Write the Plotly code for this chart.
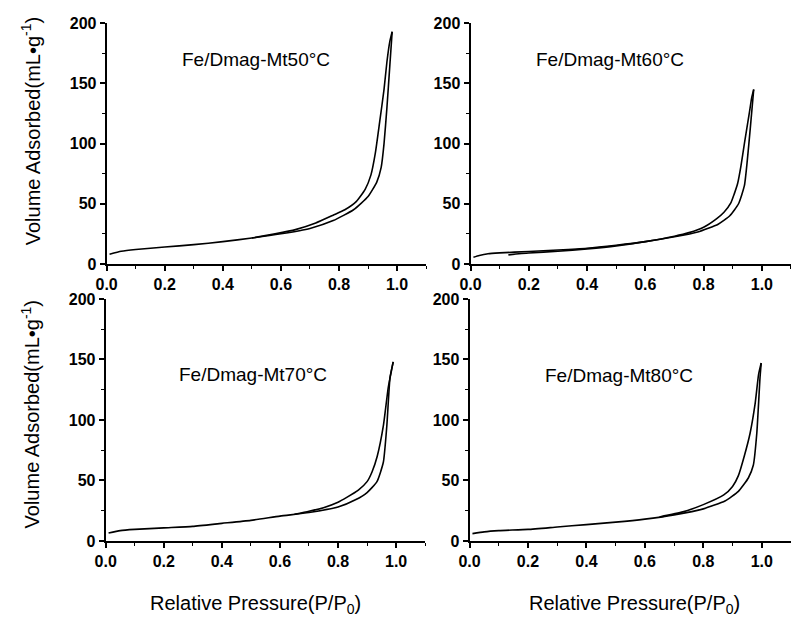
import plotly.graph_objects as go

# ---- data ----
labels = ["Fe/Dmag-Mt50°C", "Fe/Dmag-Mt60°C", "Fe/Dmag-Mt70°C", "Fe/Dmag-Mt80°C"]

ads_x_50 = [0.01, 0.05, 0.1, 0.2, 0.3, 0.4, 0.5, 0.6, 0.7, 0.78, 0.85, 0.9, 0.93, 0.945, 0.955, 0.965, 0.975, 0.983]
ads_y_50 = [8, 10.5, 12, 14, 16, 18.5, 21.5, 25, 29.5, 36, 45, 56, 68, 80, 100, 130, 165, 193]
des_x_50 = [0.983, 0.975, 0.965, 0.955, 0.94, 0.925, 0.91, 0.89, 0.86, 0.82, 0.78, 0.72, 0.65, 0.58, 0.5]
des_y_50 = [193, 185, 168, 145, 118, 92, 74, 62, 52, 45, 40.5, 34, 28.5, 25, 21.5]

ads_x_60 = [0.01, 0.03, 0.06, 0.1, 0.2, 0.3, 0.4, 0.5, 0.6, 0.7, 0.78, 0.85, 0.89, 0.92, 0.94, 0.95, 0.96, 0.972]
ads_y_60 = [5.5, 7, 8.5, 9.2, 10.3, 11.5, 13, 15.5, 18.5, 22.5, 26.5, 33, 40, 50, 65, 86, 112, 145]
des_x_60 = [0.972, 0.965, 0.956, 0.94, 0.928, 0.917, 0.905, 0.894, 0.87, 0.844, 0.8, 0.75, 0.7, 0.6, 0.5, 0.4, 0.3, 0.2, 0.13]
des_y_60 = [145, 138, 124, 100, 81, 67, 58, 51, 43, 37.5, 30.5, 26, 23, 18.5, 15, 12.5, 10.5, 9, 7.5]

ads_x_70 = [0.01, 0.05, 0.1, 0.2, 0.3, 0.4, 0.5, 0.6, 0.7, 0.8, 0.86, 0.9, 0.934, 0.956, 0.968, 0.979, 0.99]
ads_y_70 = [6.5, 8.5, 9.5, 10.8, 12, 14.5, 17, 20.5, 23.5, 28, 34, 40, 49, 65, 95, 135, 148]
des_x_70 = [0.99, 0.985, 0.973, 0.956, 0.935, 0.917, 0.9, 0.87, 0.83, 0.8, 0.75, 0.7, 0.65]
des_y_70 = [148, 142, 127, 95, 70, 57, 49, 42, 36, 32, 27.5, 24.5, 22]

ads_x_80 = [0.01, 0.05, 0.1, 0.2, 0.3, 0.4, 0.5, 0.6, 0.7, 0.8, 0.874, 0.92, 0.954, 0.971, 0.983, 0.994, 0.998]
ads_y_80 = [6, 7.5, 8.5, 9.5, 11.5, 13.5, 15.5, 18, 21.5, 26.5, 33, 41, 52, 62.5, 89, 135, 147]
des_x_80 = [0.998, 0.989, 0.977, 0.96, 0.94, 0.92, 0.9, 0.87, 0.8, 0.73, 0.65]
des_y_80 = [147, 137.5, 113, 89, 70, 54, 45, 38, 30, 24, 19.8]

x_ticks = [0.0, 0.2, 0.4, 0.6, 0.8, 1.0]
y_ticks = [0, 50, 100, 150, 200]
x_title = "Relative Pressure(P/P<sub>0</sub>)"
y_title = "Volume Adsorbed(mL•g<sup>-1</sup>)"

panels = [
    (ads_x_50, ads_y_50, des_x_50, des_y_50),
    (ads_x_60, ads_y_60, des_x_60, des_y_60),
    (ads_x_70, ads_y_70, des_x_70, des_y_70),
    (ads_x_80, ads_y_80, des_x_80, des_y_80),
]

W, H = 791, 630
def px(x):
    return x / W
def py(y):
    return 1 - y / H

xdoms = [[px(97), px(421)], [px(466), 1.0], [px(96), px(420)], [px(465), 1.0]]
ydoms = [[py(263), py(15.7)], [py(263), py(15.7)], [py(547.7), py(299)], [py(547.7), py(299)]]
label_pos = [(248, 53), (607, 53), (245, 377), (617, 378)]

FONT = "Liberation Sans, Arial, sans-serif"

fig = go.Figure()
layout = {}
for i, (ax, ay, dx, dy) in enumerate(panels):
    n = "" if i == 0 else str(i + 1)
    for xs, ys in ((ax, ay), (dx, dy)):
        fig.add_trace(go.Scatter(x=xs, y=ys, mode="lines",
                                 line=dict(color="black", width=1.6, shape="spline", smoothing=0.5),
                                 xaxis="x" + n, yaxis="y" + n, showlegend=False, hoverinfo="skip"))
    common = dict(showline=True, linecolor="black", linewidth=2, ticks="outside",
                  tickcolor="black", tickwidth=1.5, ticklen=5, showgrid=False, zeroline=False,
                  tickfont=dict(family=FONT, size=16, color="black"))
    layout["xaxis" + n] = dict(domain=xdoms[i], range=[0, 1.1], anchor="y" + n,
                               tickmode="array", tickvals=x_ticks,
                               ticktext=["<b>%.1f</b>" % v for v in x_ticks],
                               minor=dict(tickmode="linear", dtick=0.1, tick0=0, ticks="outside", ticklen=3,
                                          tickwidth=1.2, tickcolor="black"),
                               **common)
    layout["yaxis" + n] = dict(domain=ydoms[i], range=[0, 200], anchor="x" + n,
                               tickmode="array", tickvals=y_ticks,
                               ticktext=["<b>%d</b>" % v for v in y_ticks],
                               minor=dict(tickmode="linear", dtick=25, tick0=0, ticks="outside", ticklen=3,
                                          tickwidth=1.2, tickcolor="black"),
                               **common)

annotations = []
for lab, (lx, ly) in zip(labels, label_pos):
    annotations.append(dict(text=lab, x=px(lx), y=py(ly), xref="paper", yref="paper",
                            showarrow=False, xanchor="center", yanchor="middle",
                            font=dict(family=FONT, size=19, color="black")))
for cy in (127, 418):
    annotations.append(dict(text=y_title, x=px(20), y=py(cy), xref="paper", yref="paper",
                            showarrow=False, textangle=-90, xanchor="center", yanchor="middle",
                            font=dict(family=FONT, size=20, color="black")))
for cx in (248, 632):
    annotations.append(dict(text=x_title, x=px(cx), y=py(613), xref="paper", yref="paper",
                            showarrow=False, xanchor="center", yanchor="middle",
                            font=dict(family=FONT, size=20, color="black")))

fig.update_layout(width=W, height=H, margin=dict(l=0, r=0, t=0, b=0),
                  paper_bgcolor="white", plot_bgcolor="white",
                  annotations=annotations, **layout)

fig.write_html("out.html")
